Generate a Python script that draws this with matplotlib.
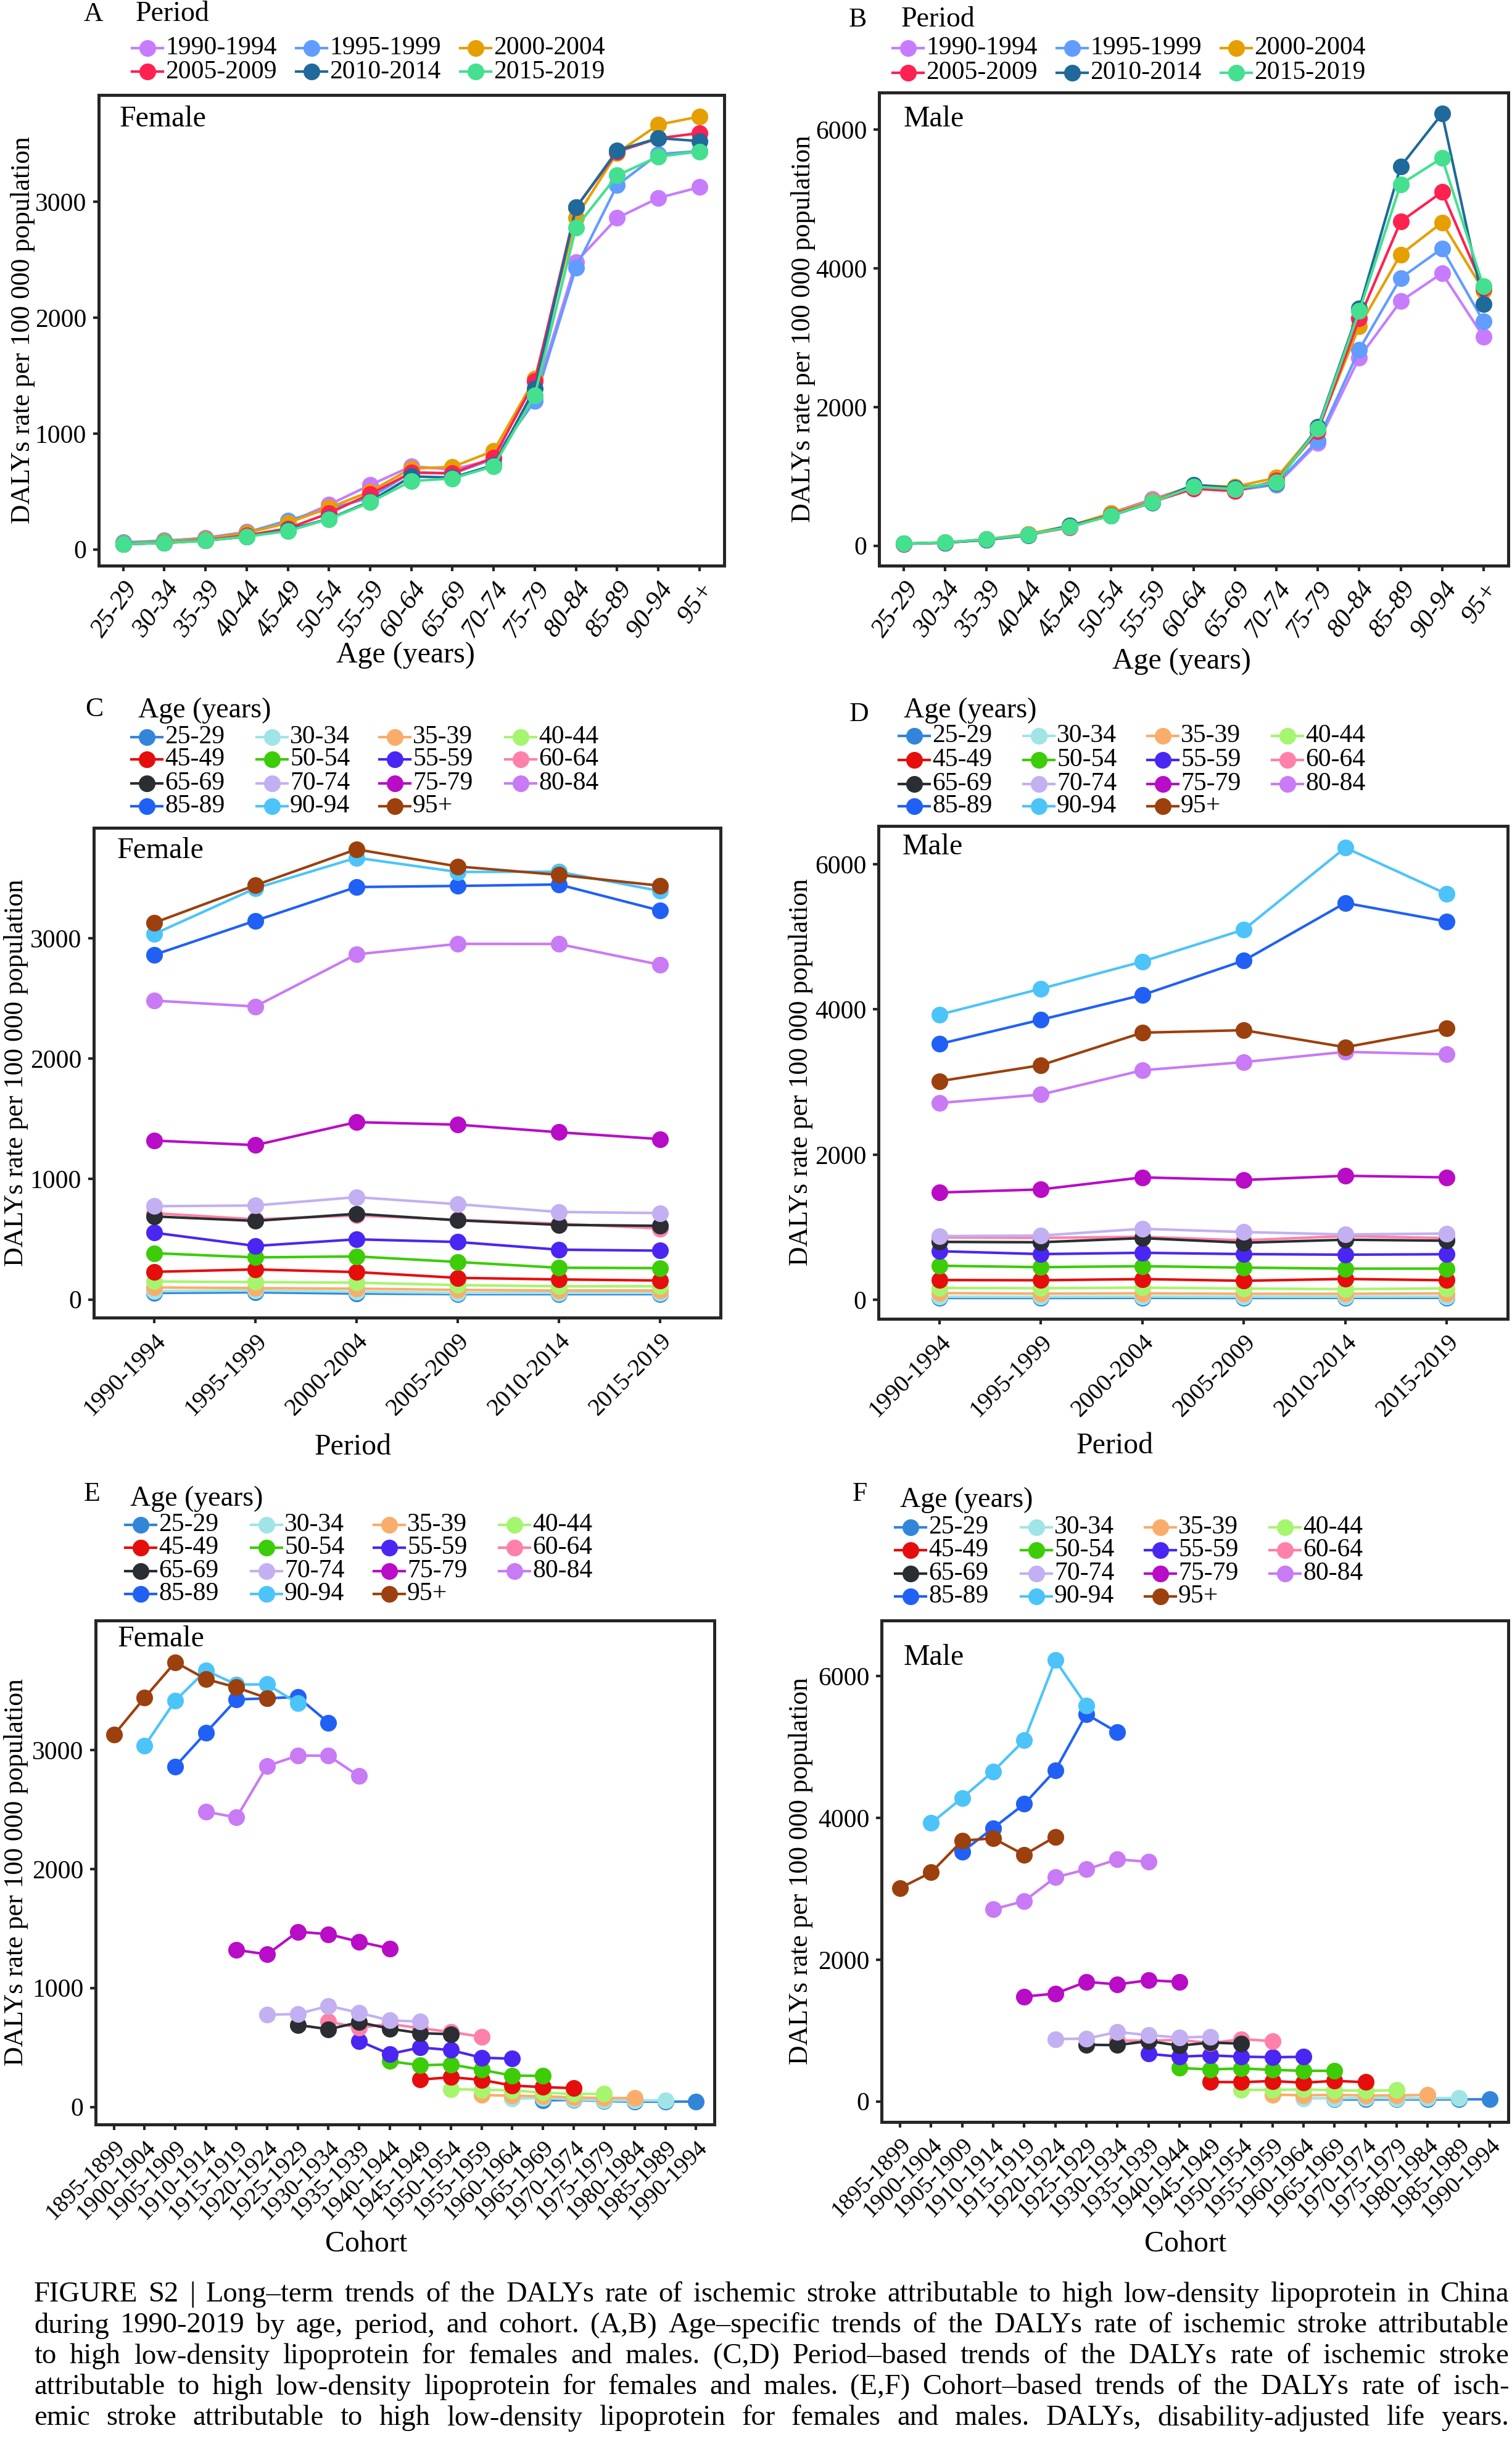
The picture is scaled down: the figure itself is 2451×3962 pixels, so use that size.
import numpy as np
import matplotlib
matplotlib.use('Agg')
import matplotlib.pyplot as plt
from matplotlib.lines import Line2D

plt.rcParams['font.family'] = ['Liberation Serif', 'DejaVu Serif']

# ---- data (DALYs rate per 100 000) ----
ages = ['25-29', '30-34', '35-39', '40-44', '45-49', '50-54', '55-59', '60-64',
        '65-69', '70-74', '75-79', '80-84', '85-89', '90-94', '95+']
periods = ['1990-1994', '1995-1999', '2000-2004', '2005-2009', '2010-2014', '2015-2019']
cohorts = ['%d-%d' % (y, y + 4) for y in range(1895, 1995, 5)]

female_1990 = [55, 70, 100, 150, 230, 385, 555, 717, 690, 775, 1320, 2482, 2862, 3035, 3128]
female_1995 = [60, 75, 95, 145, 250, 350, 445, 666, 653, 781, 1282, 2433, 3145, 3414, 3440]
female_2000 = [50, 65, 90, 140, 228, 358, 500, 698, 712, 850, 1473, 2866, 3425, 3668, 3738]
female_2005 = [45, 55, 80, 120, 180, 312, 478, 662, 658, 792, 1452, 2953, 3434, 3550, 3596]
female_2010 = [45, 55, 75, 110, 167, 264, 414, 630, 620, 727, 1389, 2952, 3446, 3552, 3526]
female_2015 = [45, 55, 75, 110, 158, 261, 406, 590, 612, 718, 1332, 2780, 3230, 3392, 3436]

male_1990 = [28, 45, 95, 165, 275, 472, 672, 862, 800, 880, 1480, 2712, 3524, 3928, 3012]
male_1995 = [28, 45, 88, 162, 272, 452, 632, 855, 795, 887, 1522, 2828, 3858, 4284, 3232]
male_2000 = [30, 48, 92, 170, 288, 466, 650, 870, 852, 980, 1688, 3162, 4198, 4658, 3680]
male_2005 = [28, 45, 85, 158, 265, 446, 632, 822, 788, 936, 1652, 3275, 4672, 5098, 3714]
male_2010 = [30, 46, 85, 150, 290, 432, 624, 880, 830, 902, 1710, 3416, 5466, 6226, 3480]
male_2015 = [30, 48, 92, 160, 272, 432, 630, 852, 816, 915, 1688, 3382, 5210, 5588, 3736]

female = np.array([female_1990, female_1995, female_2000, female_2005, female_2010, female_2015])
male = np.array([male_1990, male_1995, male_2000, male_2005, male_2010, male_2015])

period_colors = ['#C77CFF', '#619CFF', '#E69F00', '#FF2150', '#1F6A9A', '#44E08F']
age_colors = ['#3385D9', '#A0E4E8', '#FAAD6A', '#A6F56E', '#E60D0D', '#3CCC08', '#4B26F2',
              '#FF80A8', '#2A2E33', '#C2B0F2', '#B80CC6', '#C97AF5', '#2060F5', '#4CC4FA',
              '#9C400E']

W, H = 2451, 3962
fig = plt.figure(figsize=(W / 300, H / 300), dpi=300)


def fx(px):
    return px / W


def fy(py):
    return 1 - py / H


def add_axes(l, r, t, b):
    return fig.add_axes([fx(l), fy(b), fx(r) - fx(l), fy(t) - fy(b)])


def style_axes(ax, xlabels, xfs, rot, italic, yticks, ylim, xlim, sex, sexpos,
               xlab, xlabpos, ylabx):
    for s in ax.spines.values():
        s.set_linewidth(1.2)
        s.set_color('#262626')
    ax.set_xlim(xlim)
    ax.set_ylim(ylim)
    ax.set_xticks(range(len(xlabels)))
    ax.set_xticklabels(xlabels, rotation=rot, ha='right', rotation_mode='anchor',
                       fontsize=xfs, style='italic' if italic else 'normal')
    ax.set_yticks(yticks)
    ax.set_yticklabels([str(v) for v in yticks], fontsize=10)
    ax.tick_params(length=9 * 72 / 300, width=1.0, color='#262626', pad=2.5)
    ax.set_ylabel('DALYs rate per 100 000 population', fontsize=10.5)
    ax.yaxis.set_label_coords(ylabx, 0.5)
    ax.set_xlabel(xlab, fontsize=11.5)
    ax.xaxis.set_label_coords(xlabpos[0], xlabpos[1])
    ax.text(sexpos[0], sexpos[1], sex, transform=ax.transAxes, fontsize=11.5,
            ha='left', va='center')


def draw_legend(letter, letter_xy, title, title_xy, labels, colors, ncol, col_x, row_y):
    fig.text(fx(letter_xy[0]), fy(letter_xy[1]), letter, fontsize=10.5, ha='center', va='center')
    fig.text(fx(title_xy[0]), fy(title_xy[1]), title, fontsize=11, ha='left', va='center')
    for i, (lab, c) in enumerate(zip(labels, colors)):
        x0 = col_x[i % ncol]
        y0 = row_y[i // ncol]
        fig.add_artist(Line2D([fx(x0), fx(x0 + 50)], [fy(y0), fy(y0)], transform=fig.transFigure,
                              color=c, lw=1.0))
        fig.add_artist(Line2D([fx(x0 + 25)], [fy(y0)], transform=fig.transFigure,
                              color=c, marker='o', ms=5.5, lw=0))
        fig.text(fx(x0 + 54), fy(y0), lab, fontsize=10, ha='left', va='center')


mk = dict(marker='o', ms=5.5, lw=1.0)

# ---- A / B : age-specific, one line per period ----
for data, sex, rect, ylim, yticks, sexpos, xlabpos, ylabx in [
        (female, 'Female', (159.5, 1174, 153.7, 916.8), (-140, 3926), [0, 1000, 2000, 3000],
         (0.034, 0.948), (0.491, -0.163), -0.101),
        (male, 'Male', (1425, 2445, 149.5, 916.8), (-285, 6536), [0, 2000, 4000, 6000],
         (0.039, 0.943), (0.481, -0.174), -0.101)]:
    ax = add_axes(*rect)
    for p in range(len(periods)):
        ax.plot(range(len(ages)), data[p], color=period_colors[p], **mk)
    style_axes(ax, ages, 10.3, 55, True, yticks, ylim, (-0.6, 14.6), sex, sexpos,
               'Age (years)', xlabpos, ylabx)

draw_legend('A', (151, 23), 'Period', (220, 23), periods, period_colors, 3,
            [214, 480, 746], [77.6, 116.4])
draw_legend('B', (1390, 32), 'Period', (1461, 32), periods, period_colors, 3,
            [1447, 1713, 1979], [77.6, 118])

# ---- C / D : period-based, one line per age group ----
for data, sex, rect, ylim, yticks, sexpos, xlabpos, ylabx in [
        (female, 'Female', (151.6, 1168, 1341.7, 2135.8), (-149, 3918), [0, 1000, 2000, 3000],
         (0.037, 0.953), (0.414, -0.237), -0.104),
        (male, 'Male', (1424, 2444, 1339, 2137.5), (-255, 6525), [0, 2000, 4000, 6000],
         (0.038, 0.957), (0.376, -0.231), -0.104)]:
    ax = add_axes(*rect)
    for a in range(len(ages)):
        ax.plot(range(len(periods)), data[:, a], color=age_colors[a], **mk)
    style_axes(ax, periods, 9.5, 45, False, yticks, ylim, (-0.6, 5.6), sex, sexpos,
               'Period', xlabpos, ylabx)

draw_legend('C', (153, 1150), 'Age (years)', (224, 1152), ages, age_colors, 4,
            [213, 416, 615, 819], [1195, 1231, 1270, 1307])
draw_legend('D', (1392, 1158), 'Age (years)', (1465, 1152), ages, age_colors, 4,
            [1457, 1659, 1860, 2062], [1193, 1232, 1271, 1307])

# ---- E / F : cohort-based, one line per age group ----
for data, sex, rect, ylim, yticks, sexpos, xlabpos, ylabx in [
        (female, 'Female', (155, 1158, 2626.7, 3444), (-147, 4090), [0, 1000, 2000, 3000],
         (0.035, 0.963), (0.437, -0.2105), -0.109),
        (male, 'Male', (1429, 2445, 2626.7, 3440), (-290, 6790), [0, 2000, 4000, 6000],
         (0.035, 0.926), (0.485, -0.216), -0.109)]:
    ax = add_axes(*rect)
    n_age = len(ages)
    for a in range(n_age):
        cx = [p - a + n_age - 1 for p in range(len(periods))]
        ax.plot(cx, data[:, a], color=age_colors[a], **mk)
    style_axes(ax, cohorts, 9.2, 45, False, yticks, ylim, (-0.6, 19.6), sex, sexpos,
               'Cohort', xlabpos, ylabx)

draw_legend('E', (149, 2422), 'Age (years)', (211, 2430), ages, age_colors, 4,
            [203, 407, 606, 809], [2472, 2509, 2547, 2584])
draw_legend('F', (1394, 2422), 'Age (years)', (1459, 2432), ages, age_colors, 4,
            [1451, 1655, 1856, 2058], [2476, 2513, 2551, 2588])

# ---- caption, justified ----
caption = [
    'FIGURE S2 | Long\u2013term trends of the DALYs rate of ischemic stroke attributable to high low-density lipoprotein in China',
    'during 1990-2019 by age, period, and cohort. (A,B) Age\u2013specific trends of the DALYs rate of ischemic stroke attributable',
    'to high low-density lipoprotein for females and males. (C,D) Period\u2013based trends of the DALYs rate of ischemic stroke',
    'attributable to high low-density lipoprotein for females and males. (E,F) Cohort\u2013based trends of the DALYs rate of isch-',
    'emic stroke attributable to high low-density lipoprotein for females and males. DALYs, disability-adjusted life years.',
]
renderer = fig.canvas.get_renderer()
left_px, right_px = 55, 2446
for i, line in enumerate(caption):
    y = 3720 + 50 * i
    words = line.split(' ')
    texts = [fig.text(0, fy(y), w, fontsize=11.2, ha='left', va='center') for w in words]
    widths = [t.get_window_extent(renderer).width for t in texts]
    gap = (right_px - left_px - sum(widths)) / (len(words) - 1)
    x = left_px
    for t, w in zip(texts, widths):
        t.set_x(fx(x))
        x += w + gap

fig.savefig('out.png', dpi=300)
